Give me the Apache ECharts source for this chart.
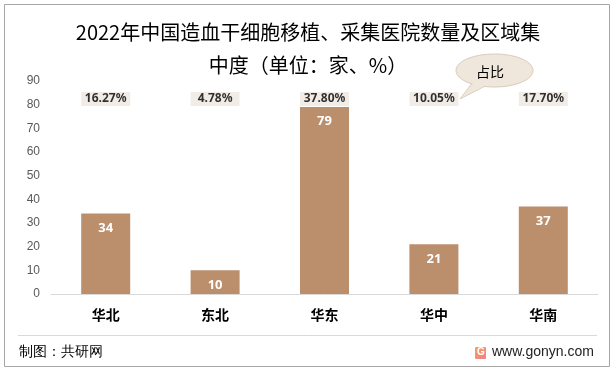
<!DOCTYPE html>
<html>
<head>
<meta charset="utf-8">
<script src="https://cdn.jsdelivr.net/npm/echarts@6/dist/echarts.min.js"></script>
<style>
html,body{margin:0;padding:0;background:#fff;}
#c{width:616px;height:372px;}
</style>
</head>
<body>
<div id="c"></div>
<script>
var categories = ['华北', '东北', '华东', '华中', '华南'];
var hospitalCounts = [34, 10, 79, 21, 37];
var shareLabels = ['16.27%', '4.78%', '37.80%', '10.05%', '17.70%'];
var yTicks = [0, 10, 20, 30, 40, 50, 60, 70, 80, 90];

var CJK = '"Noto Sans CJK SC", "Noto Sans", sans-serif';
var LABEL_LEVEL = 82.4;

var chart = echarts.init(document.getElementById('c'), null, {renderer: 'canvas'});
chart.setOption({
  backgroundColor: '#ffffff',
  animation: false,
  textStyle: {fontFamily: CJK},
  title: {
    text: '2022年中国造血干细胞移植、采集医院数量及区域集\n中度（单位：家、%）',
    left: 'center',
    top: 11,
    textStyle: {fontSize: 20, fontWeight: 'normal', color: '#000', lineHeight: 33, fontFamily: CJK}
  },
  grid: {left: 51, right: 18, top: 81, bottom: 78, containLabel: false},
  xAxis: {
    type: 'category',
    data: categories,
    axisLine: {lineStyle: {color: '#d9d9d9', width: 1}},
    axisTick: {show: false},
    axisLabel: {color: '#000', fontSize: 14, fontWeight: 'bold', margin: 14, fontFamily: CJK}
  },
  yAxis: {
    type: 'value',
    min: yTicks[0],
    max: yTicks[yTicks.length - 1],
    interval: yTicks[1] - yTicks[0],
    axisLine: {show: false},
    axisTick: {show: false},
    splitLine: {show: false},
    axisLabel: {color: '#595959', fontSize: 12, margin: 11, fontFamily: '"Liberation Sans", sans-serif'}
  },
  series: [
    {
      type: 'bar',
      data: hospitalCounts,
      barWidth: 49,
      itemStyle: {color: '#bb8e6c'},
      label: {
        show: true,
        position: 'insideTop',
        distance: 8,
        color: '#fff',
        fontSize: 13,
        fontWeight: 'bold',
        fontFamily: '"Noto Sans", sans-serif'
      }
    },
    {
      type: 'scatter',
      data: shareLabels.map(function (s) { return LABEL_LEVEL; }),
      symbol: 'rect',
      symbolSize: [49, 14],
      itemStyle: {color: '#efe7e1'},
      z: 3,
      label: {
        show: true,
        position: 'inside',
        color: '#000',
        fontSize: 12,
        fontWeight: 'bold',
        fontFamily: '"Noto Sans", sans-serif',
        formatter: function (p) { return shareLabels[p.dataIndex]; }
      }
    }
  ],
  graphic: [
    {type: 'rect', shape: {x: 4.5, y: 4.5, width: 605, height: 362}, style: {fill: 'none', stroke: '#a6a6a6', lineWidth: 1}, z: 0},
    {type: 'line', shape: {x1: 18, y1: 335.5, x2: 597, y2: 335.5}, style: {stroke: '#d9d9d9', lineWidth: 1}},
    {type: 'text', left: 19, top: 345, style: {text: '制图：共研网', fontSize: 14, fill: '#000', font: '14px ' + CJK}},
    {type: 'rect', shape: {x: 475, y: 347, width: 11, height: 12, r: 1},
      style: {fill: new echarts.graphic.LinearGradient(0, 0, 1, 1, [{offset: 0, color: '#f5a25a'}, {offset: 1, color: '#f27f8c'}])}},
    {type: 'text', left: 477, top: 347, style: {text: 'G', font: 'bold 10px "Liberation Sans", sans-serif', fill: '#fff'}},
    {type: 'text', left: 492, top: 345, style: {text: 'www.gonyn.com', font: '14px "Liberation Sans", sans-serif', fill: '#222'}},
    {type: 'polygon', shape: {points: [[473, 82], [460, 99], [487, 85]]}, style: {fill: '#efe6dc', stroke: '#d9cbb8', lineWidth: 1}, z: 10},
    {type: 'ellipse', shape: {cx: 494.5, cy: 70.5, rx: 38.5, ry: 16.5}, style: {fill: '#efe6dc', stroke: '#d9cbb8', lineWidth: 1}, z: 11},
    {type: 'polygon', shape: {points: [[474, 82], [461, 98], [486, 85]]}, style: {fill: '#efe6dc', stroke: 'none'}, z: 12},
    {type: 'text', x: 490, y: 72, style: {text: '占比', font: '14px ' + CJK, fill: '#000', align: 'center', verticalAlign: 'middle'}, z: 13}
  ]
});
</script>
</body>
</html>
